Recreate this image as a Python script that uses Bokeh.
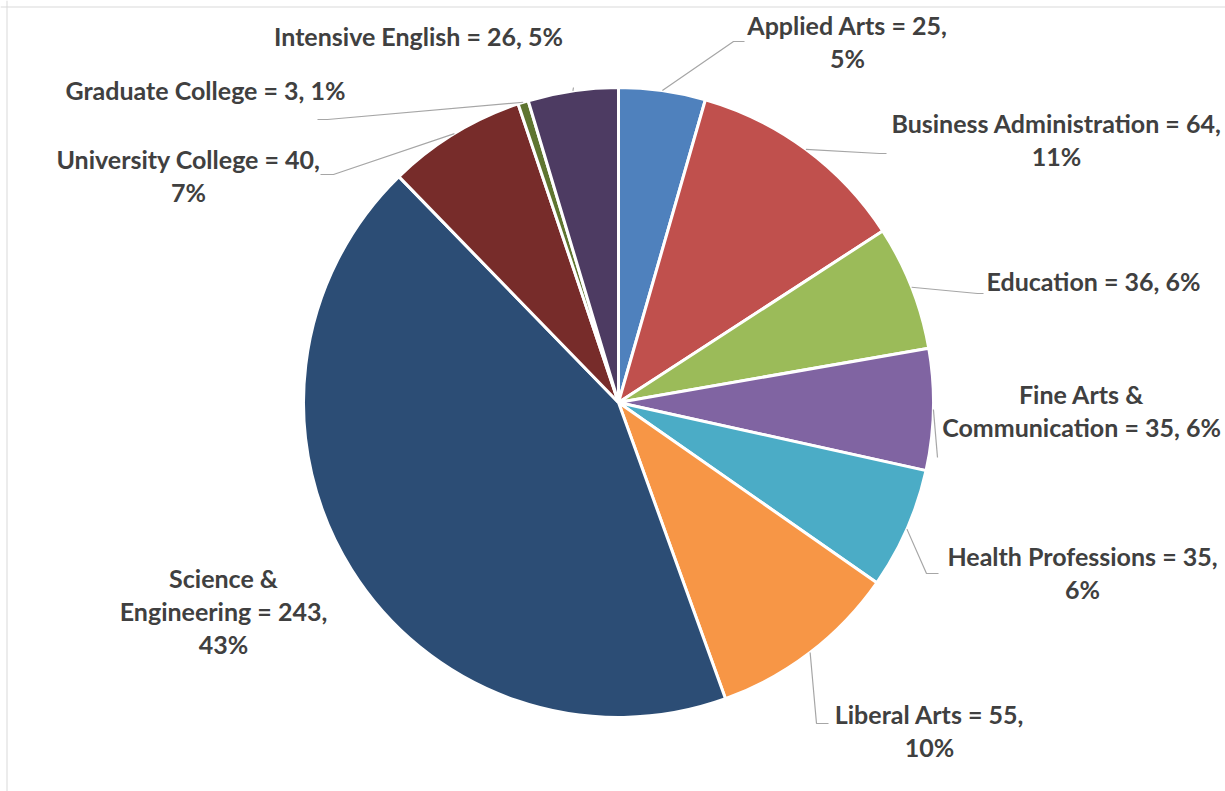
import math
from bokeh.plotting import figure
from bokeh.models import Range1d, Span
from bokeh.core.properties import value
from bokeh.embed import file_html
from bokeh.resources import INLINE

# ---- data ----
categories = ["Applied Arts", "Business Administration", "Education",
              "Fine Arts & Communication", "Health Professions", "Liberal Arts",
              "Science & Engineering", "University College", "Graduate College",
              "Intensive English"]
counts = [25, 64, 36, 35, 35, 55, 243, 40, 3, 26]
pct_labels = ["5%", "11%", "6%", "6%", "6%", "10%", "43%", "7%", "1%", "5%"]
colors = ["#4F81BD", "#C0504D", "#9BBB59", "#8064A2", "#4BACC6", "#F79646",
          "#2C4D75", "#772C2A", "#5F7530", "#4D3B62"]

# ---- layout (pixels of the picture) ----
W, H = 1225, 791
def sy(v):  # picture y (top-down) -> data y
    return H - v

CX, CY, R = 618, 402, 315
label_pos = [(847, 24), (1056, 122), (1093, 280), (1081, 393), (1082, 555),
             (929, 713), (223, 577), (188, 158), (205, 89), (418, 35)]
wraps = [["pct"], ["pct"], [], ["amp"], ["pct"], ["pct"], ["amp", "pct"], ["pct"], [], []]
leader_rest = [[(733, 41), (744, 41)],
               [(879, 153), (886, 153)],
               [(977, 293), (983, 293)],
               [(937, 457)],
               [(926, 573), (938, 573)],
               [(816, 723), (828, 723)],
               None,
               [(333, 174), (320, 174)],
               [(327, 119), (317, 119)],
               [(573, 87)]]
LINE_H = 33

p = figure(width=W, height=H, output_backend="svg", toolbar_location=None,
           x_range=Range1d(0, W), y_range=Range1d(0, H),
           min_border=0, match_aspect=False)
p.axis.visible = False
p.grid.visible = False
p.outline_line_color = None
p.background_fill_color = "white"
p.border_fill_color = "white"

# chart-area frame (top and left edges visible)
p.add_layout(Span(location=6.5, dimension="height", line_color="#D9D9D9", line_width=1))
p.add_layout(Span(location=sy(6.5), dimension="width", line_color="#D9D9D9", line_width=1))

total = sum(counts)
cum = 0
starts, ends, mids = [], [], []
for c in counts:
    a0 = math.pi / 2 - 2 * math.pi * cum / total
    cum += c
    a1 = math.pi / 2 - 2 * math.pi * cum / total
    starts.append(a1)
    ends.append(a0)
    mids.append((a0 + a1) / 2)

p.wedge(x=[CX] * len(counts), y=[sy(CY)] * len(counts), radius=R,
        start_angle=starts, end_angle=ends, direction="anticlock",
        fill_color=colors, line_color="white", line_width=3)

# leader lines
for i, rest in enumerate(leader_rest):
    if not rest:
        continue
    ax = CX + R * math.cos(mids[i])
    ay = sy(CY) + R * math.sin(mids[i])
    xs = [ax] + [q[0] for q in rest]
    ys = [ay] + [sy(q[1]) for q in rest]
    p.line(xs, ys, line_color="#A6A6A6", line_width=1.2)

# labels
tx, ty, tt = [], [], []
for i, name in enumerate(categories):
    full_lines = []
    head = f"{name} = {counts[i]},"
    if "amp" in wraps[i]:
        first, second = name.split("& ")
        full_lines.append(first + "&")
        head = f"{second} = {counts[i]},"
    if "pct" in wraps[i]:
        full_lines += [head, pct_labels[i]]
    else:
        full_lines += [head + " " + pct_labels[i]]
    x0, y0 = label_pos[i]
    for k, s in enumerate(full_lines):
        tx.append(x0)
        ty.append(sy(y0 + k * LINE_H))
        tt.append(s)

p.text(x=tx, y=ty, text=tt, text_font=value("Lato"), text_font_style="bold",
       text_font_size="25px", text_color="#404040", text_align="center",
       text_baseline="middle")

open("out.html", "w").write(file_html(p, INLINE))
